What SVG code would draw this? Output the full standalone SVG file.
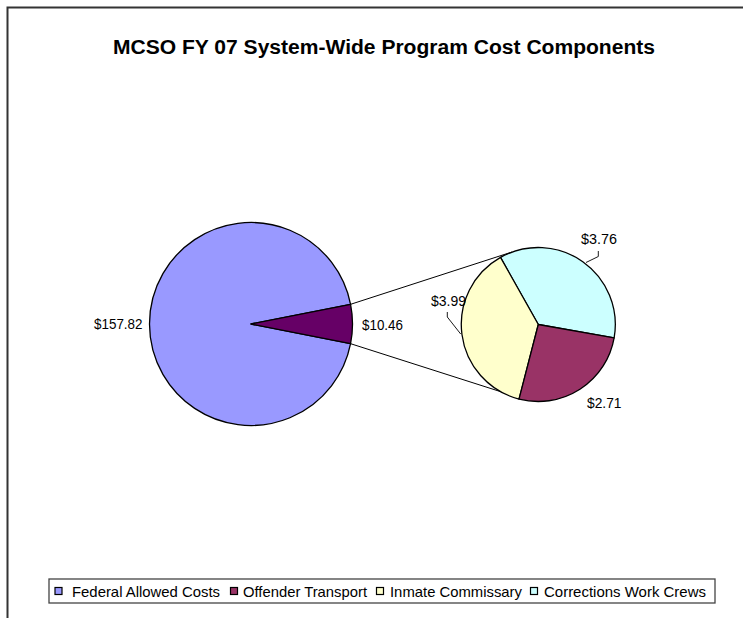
<svg xmlns="http://www.w3.org/2000/svg" width="743" height="618" viewBox="0 0 743 618">
<style>
  text { font-family: "Liberation Sans", Arial, sans-serif; fill: #000; }
  .title { font-size: 19.5px; font-weight: bold; }
  .lbl { font-size: 14px; }
  .leg { font-size: 14.5px; }
  .slice { stroke: #000; stroke-width: 1.3; stroke-linejoin: round; }
  .conn { fill: none; stroke: #000; stroke-width: 1; }
  .lead { fill: none; stroke: #000; stroke-width: 0.9; }
  .mark { stroke: #000; stroke-width: 1.2; }
</style>
<rect x="0" y="0" width="743" height="618" fill="#fff"/>
<path d="M7.5,618 V7.5 H743" fill="none" stroke="#333" stroke-width="2"/>
<text class="title" x="113" y="54" textLength="542" lengthAdjust="spacingAndGlyphs">MCSO FY 07 System-Wide Program Cost Components</text>

<g id="connectors">
  <line class="conn" x1="350.6" y1="304.3" x2="512" y2="252"/>
  <line class="conn" x1="350.6" y1="343.7" x2="508" y2="394"/>
  <polyline class="lead" points="598.3,251 598.3,256.5 586,262.5"/>
  <polyline class="lead" points="447.3,312 447.3,317 460.7,334"/>
</g>

<g id="pie-main">
  <path id="federal" class="slice" fill="#9999FF" d="M251,324 L350.57,304.3 A101.5,101.5 0 1 0 350.57,343.7 Z"/>
  <path id="other" class="slice" fill="#660066" d="M251,324 L350.57,343.7 A101.5,101.5 0 0 0 350.57,304.3 Z"/>
</g>

<g id="pie-secondary">
  <path id="crews" class="slice" fill="#CCFFFF" d="M538.3,324.5 L614.13,337.87 A77,77 0 0 0 500.5,257.42 Z"/>
  <path id="commissary" class="slice" fill="#FFFFCC" d="M538.3,324.5 L500.5,257.42 A77,77 0 0 0 519.02,399.05 Z"/>
  <path id="transport" class="slice" fill="#993366" d="M538.3,324.5 L519.02,399.05 A77,77 0 0 0 614.13,337.87 Z"/>
</g>

<g id="labels">
  <text class="lbl" x="94" y="329" textLength="48.5" lengthAdjust="spacingAndGlyphs">$157.82</text>
  <text class="lbl" x="362" y="330" textLength="41" lengthAdjust="spacingAndGlyphs">$10.46</text>
  <text class="lbl" x="581" y="243.5" textLength="36" lengthAdjust="spacingAndGlyphs">$3.76</text>
  <text class="lbl" x="431" y="305.5" textLength="35" lengthAdjust="spacingAndGlyphs">$3.99</text>
  <text class="lbl" x="587" y="408" textLength="34.5" lengthAdjust="spacingAndGlyphs">$2.71</text>
</g>

<g id="legend">
  <rect x="49" y="579" width="666" height="24" fill="#fff" stroke="#444" stroke-width="1.3"/>
  <rect class="mark" x="55" y="587.5" width="7" height="7" fill="#9999FF"/>
  <text class="leg" x="72" y="596.5" textLength="148" lengthAdjust="spacingAndGlyphs">Federal Allowed Costs</text>
  <rect class="mark" x="230.5" y="587.5" width="7" height="7" fill="#993366"/>
  <text class="leg" x="243" y="596.5" textLength="124" lengthAdjust="spacingAndGlyphs">Offender Transport</text>
  <rect class="mark" x="376.5" y="587.5" width="7" height="7" fill="#FFFFCC"/>
  <text class="leg" x="390" y="596.5" textLength="132" lengthAdjust="spacingAndGlyphs">Inmate Commissary</text>
  <rect class="mark" x="530.5" y="587.5" width="7" height="7" fill="#CCFFFF"/>
  <text class="leg" x="544" y="596.5" textLength="162" lengthAdjust="spacingAndGlyphs">Corrections Work Crews</text>
</g>
</svg>
